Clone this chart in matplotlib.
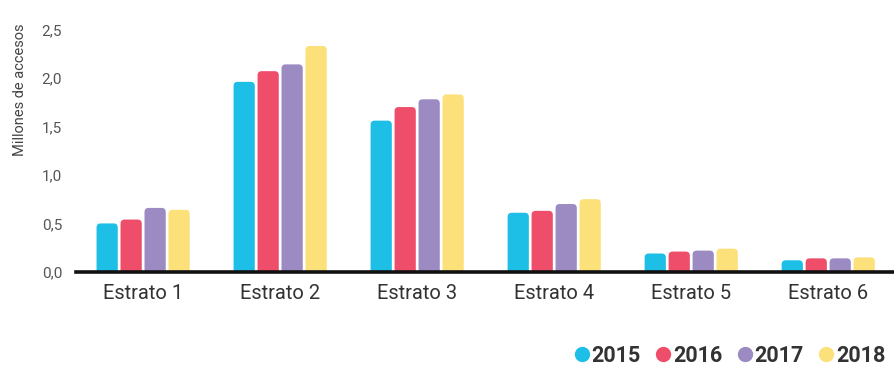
import matplotlib.pyplot as plt
import numpy as np
from matplotlib.patches import FancyBboxPatch
from matplotlib.lines import Line2D

plt.rcParams['font.family'] = ['Roboto', 'DejaVu Sans']

estratos = ['Estrato 1', 'Estrato 2', 'Estrato 3', 'Estrato 4', 'Estrato 5', 'Estrato 6']
years = ['2015', '2016', '2017', '2018']
v2015 = [0.50, 1.96, 1.56, 0.61, 0.19, 0.12]
v2016 = [0.54, 2.07, 1.70, 0.63, 0.21, 0.14]
v2017 = [0.66, 2.14, 1.78, 0.70, 0.22, 0.14]
v2018 = [0.64, 2.33, 1.83, 0.75, 0.24, 0.15]
yticks = [0.0, 0.5, 1.0, 1.5, 2.0, 2.5]

series = [v2015, v2016, v2017, v2018]
colors = ['#1EBFE6', '#EE4E6A', '#9B8BC2', '#FCE07A']

fig = plt.figure(figsize=(8.94, 3.73), dpi=100)
ax = fig.add_axes([0.085, 0.271, 0.915, 0.663])

x = np.arange(len(estratos))
w = 0.155
step = 0.175
for i, vals in enumerate(series):
    bars = ax.bar(x + (i - 1.5) * step, vals, width=w, color=colors[i])
    # swap plain bars for rounded-top ones
    for b in bars:
        b.set_visible(False)
        p = FancyBboxPatch((b.get_x(), -0.05), b.get_width(), b.get_height() + 0.05,
                           boxstyle="round,pad=0,rounding_size=0.03",
                           mutation_aspect=1.41, fc=colors[i], ec='none', zorder=2)
        ax.add_patch(p)

ax.set_xlim(-0.49, 5.48)
ax.set_ylim(0, 2.55)
ax.set_yticks(yticks)
ax.set_yticklabels([f'{t:.1f}'.replace('.', ',') for t in yticks], fontsize=11, color='#555555')
ax.set_xticks(x)
ax.set_xticklabels(estratos, fontsize=14.5, color='#333333')
ax.tick_params(length=0)
ax.tick_params(axis='x', pad=9)
ax.tick_params(axis='y', pad=10)
for s in ['top', 'right', 'left']:
    ax.spines[s].set_visible(False)
ax.spines['bottom'].set_linewidth(2.6)
ax.spines['bottom'].set_color('#111111')
ax.spines['bottom'].set_zorder(5)

fig.text(0.022, 1 - 90 / 373, 'Millones de accesos', rotation=90, fontsize=10.5,
         color='#444444', ha='center', va='center')

handles = [Line2D([], [], marker='o', ls='none', markersize=10, color=c) for c in colors]
fig.legend(handles, years, loc='lower right', bbox_to_anchor=(1.012, -0.035), ncol=4,
           frameon=False, handletextpad=-0.3, columnspacing=0.3, handlelength=1.5,
           prop={'weight': 'bold', 'size': 15.5}, labelcolor='#333333')

fig.savefig('out.png', dpi=100)
